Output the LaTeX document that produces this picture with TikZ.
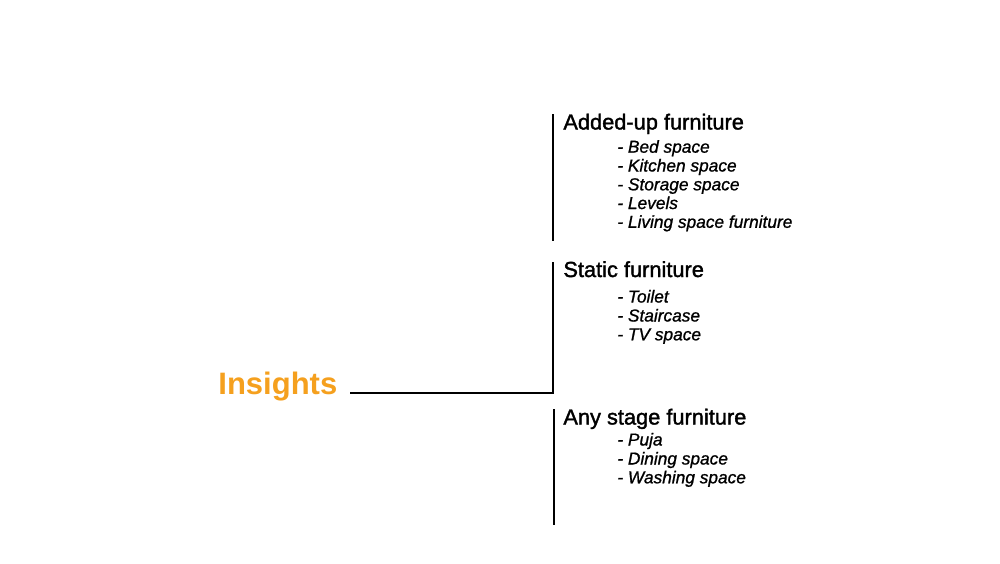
\documentclass[tikz,border=0pt]{standalone}
\usepackage{fontspec}
\setmainfont{Liberation Sans}
\newfontfamily\headfont[FakeBold=1.6]{Liberation Sans}
\newfontfamily\itemfont[FakeBold=1.0,ItalicFont={Liberation Sans Italic},ItalicFeatures={FakeBold=1.0}]{Liberation Sans}
\definecolor{insorange}{RGB}{245,160,30}
\begin{document}
\begin{tikzpicture}[x=0.5pt,y=-0.5pt,
  head/.style={anchor=base west,inner sep=0pt,font=\headfont\fontsize{10.9pt}{13pt}\selectfont,text=black},
  item/.style={anchor=base west,inner sep=0pt,font=\itemfont\fontsize{8.65pt}{10pt}\selectfont\itshape,text=black},
  title/.style={anchor=base west,inner sep=0pt,font=\fontsize{15.5pt}{18pt}\selectfont\bfseries,text=insorange},
  bar/.style={draw=black,line width=0.8pt}]
\useasboundingbox (0,0) rectangle (1000,563);
% title
\node[title] (ins) at (218,394) {Insights};
% group 1
\node[head] (h1) at (563,129.5) {Added-up furniture};
\node[item] (a1) at (617,152.7) {- Bed space};
\node[item] (a2) at (617,171.5) {- Kitchen space};
\node[item] (a3) at (617,190.3) {- Storage space};
\node[item] (a4) at (617,209) {- Levels};
\node[item] (a5) at (617,227.8) {- Living space furniture};
% group 2
\node[head] (h2) at (563,277) {Static furniture};
\node[item] (b1) at (617,302.5) {- Toilet};
\node[item] (b2) at (617,321.5) {- Staircase};
\node[item] (b3) at (617,340.3) {- TV space};
% group 3
\node[head] (h3) at (563,424.5) {Any stage furniture};
\node[item] (c1) at (617,445.5) {- Puja};
\node[item] (c2) at (617,464.5) {- Dining space};
\node[item] (c3) at (617,483.3) {- Washing space};
% brackets
\coordinate (t1) at (553,114);
\coordinate (e1) at (553,241);
\coordinate (t2) at (553,262);
\coordinate (k2) at (553,393);
\coordinate (s0) at (350,393);
\coordinate (t3) at (554,409);
\coordinate (e3) at (554,525);
\draw[bar] (t1) -- (e1);
\draw[bar] (s0) -- (k2) -- (t2);
\draw[bar] (t3) -- (e3);
\end{tikzpicture}
\end{document}
